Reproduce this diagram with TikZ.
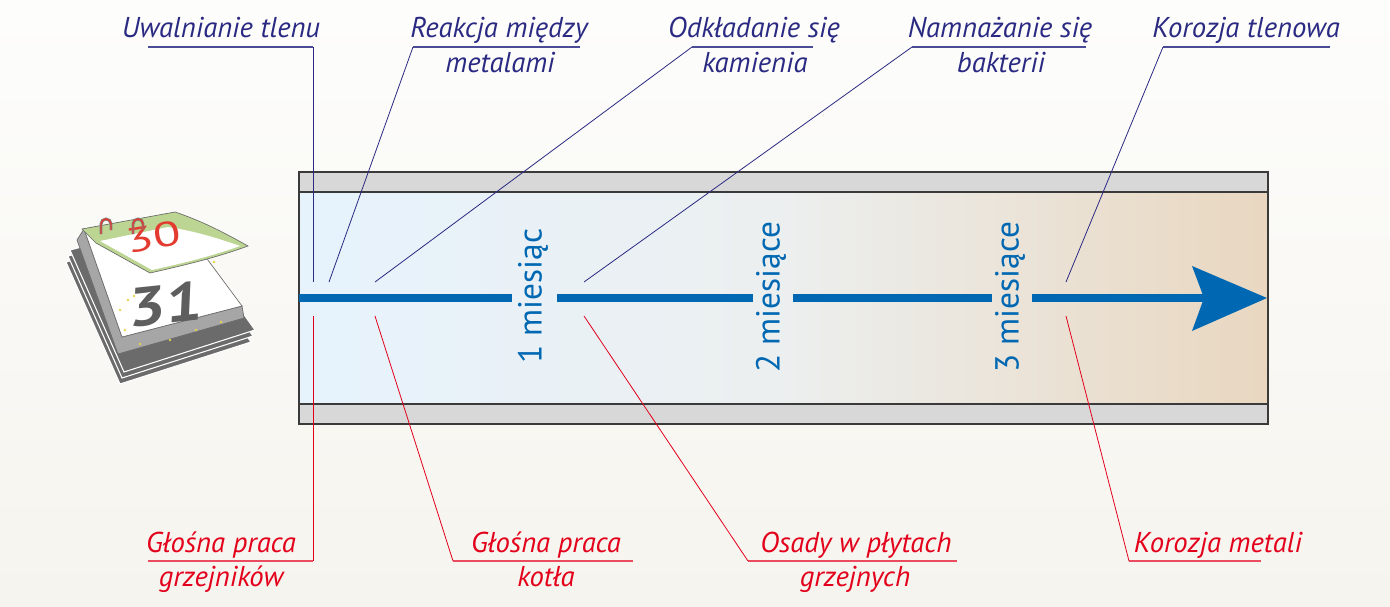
\documentclass[tikz,border=0pt]{standalone}
\usepackage{fontspec}
\setmainfont{PT Sans}
\definecolor{navy}{HTML}{2B2A83}
\definecolor{lred}{HTML}{E3001B}
\definecolor{tblue}{HTML}{0068B2}
\definecolor{bgtop}{HTML}{FDFDFC}
\definecolor{bgbot}{HTML}{F6F4EE}
\definecolor{pipeL}{HTML}{E6F3FD}
\definecolor{pipeM}{HTML}{ECEFEF}
\definecolor{pipeR}{HTML}{E9D7C0}
\definecolor{wall}{HTML}{D8D8D8}
\definecolor{edge}{HTML}{3A3A3A}
\definecolor{calbase}{HTML}{6B6B6B}
\definecolor{calside}{HTML}{A6A6A6}
\definecolor{calgreen}{HTML}{BCD592}
\definecolor{calred}{HTML}{E33B2F}
\definecolor{caldig}{HTML}{5E5E5E}
\definecolor{calyel}{HTML}{E6D44A}
\tikzset{
  lbl/.style={font=\fontsize{21.5}{25}\selectfont\itshape, anchor=base, inner sep=0pt},
  toplbl/.style={lbl, text=navy},
  botlbl/.style={lbl, text=lred},
  tlead/.style={draw=navy, line width=0.6pt},
  blead/.style={draw=lred, line width=0.6pt},
  tul/.style={draw=navy!85, line width=0.9pt},
  bul/.style={draw=lred!70, line width=1.1pt},
  month/.style={font=\fontsize{25}{29}\selectfont, text=tblue, rotate=90, inner sep=0pt},
  tline/.style={draw=tblue, line width=6pt},
  pipeedge/.style={draw=edge, line width=0.9pt},
}
\begin{document}
\begin{tikzpicture}[x=0.75pt,y=-0.75pt]
\useasboundingbox (0,0) rectangle (1390,607);
\fill[top color=bgtop, bottom color=bgbot] (0,0) rectangle (1390,607);

% ---------- calendar icon ----------
\foreach \dx/\dy in {-4/12,-2/6,0/0}{
  \filldraw[fill=calbase, draw=white, line width=0.8pt, shift={(\dx,\dy)}]
    (70,250) -- (178,222) -- (255,330) -- (124,372) -- cycle;
}
\filldraw[fill=calside, draw=calbase, line width=0.5pt]
  (84,229) -- (122,337) -- (242,306) -- (244,318) -- (118,354) -- (77,240) -- cycle;
\filldraw[fill=white, draw=calbase, line width=0.5pt]
  (84,229) -- (173,213) -- (242,306) -- (122,337) -- cycle;
\node[font=\fontsize{41}{41}\selectfont\bfseries, text=caldig, rotate=6, xslant=0.15, xscale=1.2, inner sep=0pt] (d31) at (166,304) {31};
\foreach \px/\py in {128/300, 134/296, 150/262, 160/268, 200/258, 214/262, 120/310, 125/330, 170/340, 196/330, 221/322, 140/344}{
  \fill[calyel] (\px,\py) circle (1.3);
}
\filldraw[fill=calgreen, draw=calbase, line width=0.5pt]
  (82,229) -- (175,212) .. controls (205,222) and (230,236) .. (248,246)
  .. controls (215,258) and (185,265) .. (150,273) -- (96,243) -- cycle;
\fill[white]
  (100,241) -- (168,227) .. controls (195,231) and (220,239) .. (240,246)
  .. controls (212,256) and (184,263) .. (152,270) -- cycle;
\node[font=\fontsize{26}{26}\selectfont, text=calred, rotate=9, xscale=1.45, inner sep=0pt] (d30) at (154,237) {30};
\foreach \rx in {101,133}{
  \draw[draw=gray, line width=2.2pt] (\rx,234) -- (\rx,224) arc (180:360:5) -- (\rx+10,230);
  \draw[draw=calred, line width=1.1pt] (\rx,234) -- (\rx,224) arc (180:360:5) -- (\rx+10,230);
}

% ---------- pipe ----------
\fill[wall] (299,172) rectangle (1268,192);
\fill[wall] (299,404) rectangle (1268,424);
\fill[left color=pipeL, right color=pipeR, middle color=pipeM] (299,192) rectangle (1268,404);
\draw[pipeedge] (299,172) rectangle (1268,424);
\draw[pipeedge] (299,192) -- (1268,192);
\draw[pipeedge] (299,404) -- (1268,404);

% ---------- timeline ----------
\node[month] (m1) at (533,296) {1 miesiąc};
\node[month] (m2) at (771,297) {2 miesiące};
\node[month] (m3) at (1010,297) {3 miesiące};
\coordinate (t0) at (299,298);
\coordinate (g1a) at (512,298);
\coordinate (g1b) at (557,298);
\coordinate (g2a) at (753,298);
\coordinate (g2b) at (793,298);
\coordinate (g3a) at (992,298);
\coordinate (g3b) at (1032,298);
\coordinate (hb) at (1205,298);
\coordinate (tip) at (1267,298);
\draw[tline] (t0) -- (g1a);
\draw[tline] (g1b) -- (g2a);
\draw[tline] (g2b) -- (g3a);
\draw[tline] (g3b) -- (hb);
\fill[tblue] (tip) -- (1192,331) -- (1204,298) -- (1192,266) -- cycle;

% ---------- points on the timeline ----------
\coordinate (pa) at (313,282);  \coordinate (qa) at (313,316);
\coordinate (pb) at (329,282);  \coordinate (qb) at (375,316);
\coordinate (pc) at (375,282);  \coordinate (qc) at (584,316);
\coordinate (pd) at (584,282);  \coordinate (qd) at (1066,316);
\coordinate (pe) at (1066,282);

% ---------- top labels ----------
\node[toplbl] (u1) at (221,37) {Uwalnianie tlenu};
\node[toplbl] (r1) at (499,37) {Reakcja między};
\node[toplbl] (r2) at (500,72) {metalami};
\node[toplbl] (o1) at (754,37) {Odkładanie się};
\node[toplbl] (o2) at (755,72) {kamienia};
\node[toplbl] (n1) at (1000,37) {Namnażanie się};
\node[toplbl] (n2) at (1001,72) {bakterii};
\node[toplbl] (k1) at (1246,37) {Korozja tlenowa};

\coordinate (ua) at (148,47);  \coordinate (ub) at (313,47);
\coordinate (ra) at (413,47);  \coordinate (rb) at (580,47);
\coordinate (oa) at (692,47);  \coordinate (ob) at (813,47);
\coordinate (na) at (912,47);  \coordinate (nb) at (1086,47);
\coordinate (ka) at (1163,47); \coordinate (kb) at (1330,47);
\draw[tul] (ua) -- (ub);
\draw[tul] (ra) -- (rb);
\draw[tul] (oa) -- (ob);
\draw[tul] (na) -- (nb);
\draw[tul] (ka) -- (kb);
\draw[tlead] (ub) -- (pa);
\draw[tlead] (ra) -- (pb);
\draw[tlead] (oa) -- (pc);
\draw[tlead] (na) -- (pd);
\draw[tlead] (ka) -- (pe);

% ---------- bottom labels ----------
\node[botlbl] (g1) at (221,552) {Głośna praca};
\node[botlbl] (g2) at (221,586) {grzejników};
\node[botlbl] (h1) at (546,552) {Głośna praca};
\node[botlbl] (h2) at (546,586) {kotła};
\node[botlbl] (s1) at (856,552) {Osady w płytach};
\node[botlbl] (s2) at (855,586) {grzejnych};
\node[botlbl] (km) at (1218,552) {Korozja metali};

\coordinate (ga) at (148,561);  \coordinate (gb) at (313,561);
\coordinate (ha) at (453,561);  \coordinate (hb2) at (633,561);
\coordinate (sa) at (748,561);  \coordinate (sb) at (957,561);
\coordinate (ma) at (1129,561); \coordinate (mb) at (1261,561);
\draw[bul] (ga) -- (gb);
\draw[bul] (ha) -- (hb2);
\draw[bul] (sa) -- (sb);
\draw[bul] (ma) -- (mb);
\draw[blead] (qa) -- (gb);
\draw[blead] (qb) -- (ha);
\draw[blead] (qc) -- (sa);
\draw[blead] (qd) -- (ma);
\end{tikzpicture}
\end{document}
